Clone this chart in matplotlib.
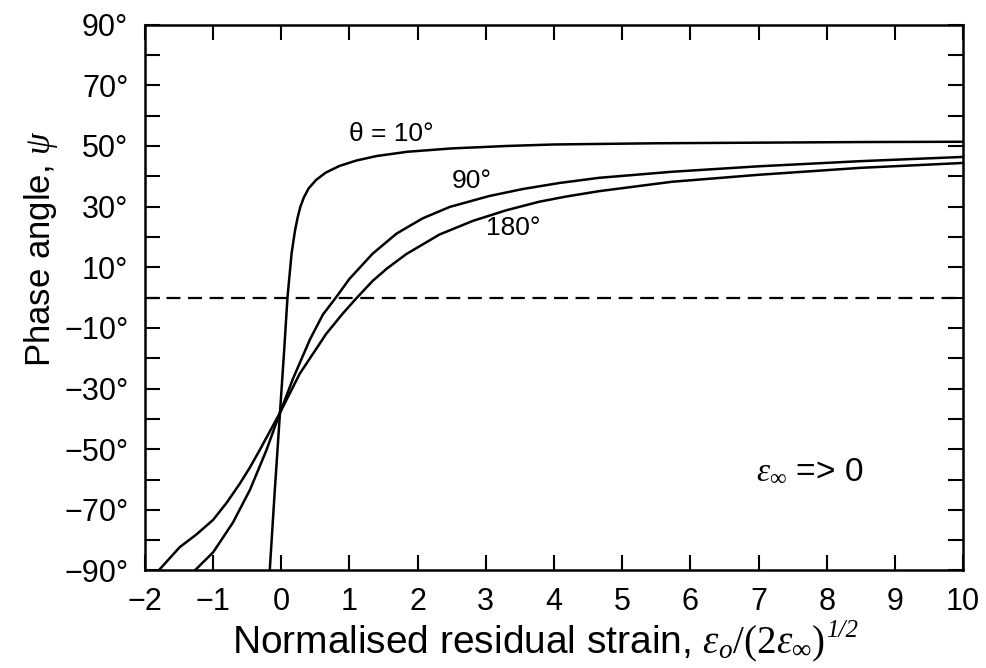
import matplotlib
matplotlib.use("Agg")
import matplotlib.pyplot as plt
from matplotlib.ticker import FixedLocator, FuncFormatter

plt.rcParams['font.family'] = ['Liberation Sans', 'DejaVu Sans']
plt.rcParams['mathtext.fontset'] = 'custom'
plt.rcParams['mathtext.rm'] = 'Liberation Serif'
plt.rcParams['mathtext.it'] = 'Liberation Serif:italic'
plt.rcParams['axes.unicode_minus'] = True
plt.rcParams['lines.scale_dashes'] = False

# curves: normalised residual strain vs phase angle (deg)
theta10_x = [-0.17, -0.10, -0.02, 0.04, 0.09, 0.15, 0.20, 0.24, 0.28, 0.33, 0.40,
             0.51, 0.65, 0.85, 1.10, 1.40, 1.85, 2.5, 3.3, 4.0, 5.5, 7.0, 8.5, 10.0]
theta10_y = [-90, -65, -38, -18, 0, 14.5, 22, 26.5, 30, 33, 36,
             38.8, 41.2, 43.4, 45.2, 46.7, 48.1, 49.2, 50.0, 50.5, 50.9, 51.1, 51.3, 51.4]

theta90_x = [-1.27, -1.0, -0.71, -0.46, -0.22, -0.02, 0.17, 0.42, 0.61, 0.80, 1.00,
             1.34, 1.69, 2.07, 2.47, 3.05, 3.54, 4.08, 4.66, 5.73, 7.0, 8.5, 10.0]
theta90_y = [-90, -84.0, -74.2, -63.4, -50.4, -38, -26.8, -13.8, -5.6, 0, 6.2,
             14.5, 21.1, 26.1, 29.9, 33.5, 35.8, 37.8, 39.5, 41.5, 43.3, 45.0, 46.4]

theta180_x = [-1.80, -1.49, -1.25, -1.0, -0.80, -0.61, -0.46, -0.32, -0.17, -0.02, 0.27,
              0.66, 0.90, 1.11, 1.34, 1.55, 1.83, 2.32, 2.81, 3.30, 3.78, 4.17, 4.66,
              5.73, 7.0, 8.5, 10.0]
theta180_y = [-90, -82.3, -78.2, -73.3, -67.6, -61.4, -56.0, -50.4, -44.2, -38, -25.1,
              -11.9, -5.3, 0, 5.5, 9.6, 14.3, 20.8, 25.3, 28.8, 31.6, 33.3, 35.1,
              38.2, 40.5, 42.8, 44.4]

x_ticks = list(range(-2, 11))
y_major = [-90, -70, -50, -30, -10, 10, 30, 50, 70, 90]
y_minor = [-80, -60, -40, -20, 0, 20, 40, 60, 80]

fig = plt.figure(figsize=(9.87, 6.68), dpi=100)
ax = fig.add_axes([0.1469, 0.146, 0.8288, 0.817])

lw = 1.8
ax.plot(theta10_x, theta10_y, color='black', lw=lw)
ax.plot(theta90_x, theta90_y, color='black', lw=lw)
ax.plot(theta180_x, theta180_y, color='black', lw=lw)
ax.axhline(0, color='black', lw=1.6, dashes=(10, 5.5))

ax.set_xlim(-2, 10)
ax.set_ylim(-90, 90)
ax.xaxis.set_major_locator(FixedLocator(x_ticks))
ax.yaxis.set_major_locator(FixedLocator(y_major))
ax.yaxis.set_minor_locator(FixedLocator(y_minor))
ax.xaxis.set_major_formatter(FuncFormatter(lambda v, p: f"{int(v)}".replace('-', '\u2212')))
ax.yaxis.set_major_formatter(FuncFormatter(lambda v, p: f"{int(v)}\u00b0".replace('-', '\u2212')))

ax.tick_params(which='both', direction='in', top=True, right=True, length=11,
               width=1.5, labelsize=22, color='black')
ax.tick_params(axis='y', which='major', pad=12)
ax.tick_params(axis='x', which='major', pad=12)
for s in ax.spines.values():
    s.set_linewidth(1.8)

# x label, with the 1/2 exponent drawn as its own small text
ax.set_xlabel(r'Normalised residual strain, $\varepsilon_{o}/(2\varepsilon_{\infty})$',
              fontsize=28, ha='left')
ax.xaxis.set_label_coords(0.106, -0.098)
ax.annotate('1/2', xy=(1, 1), xycoords=ax.xaxis.label, xytext=(1, 3),
            textcoords='offset points', ha='left', va='top', fontsize=18,
            family='Liberation Serif', style='italic')

ax.set_ylabel(r'Phase angle, $\psi$', fontsize=25)
ax.yaxis.set_label_coords(-0.104, 0.59)

ax.text(1.62, 54, '\u03b8 = 10\u00b0', fontsize=19, ha='center', va='center')
ax.text(2.79, 38.5, '90\u00b0', fontsize=19, ha='center', va='center')
ax.text(3.40, 22.8, '180\u00b0', fontsize=19, ha='center', va='center')
ax.text(7.75, -57, r'$\varepsilon_{\infty}$ => 0', fontsize=24, ha='center', va='center')

fig.savefig('out.png', dpi=100)
